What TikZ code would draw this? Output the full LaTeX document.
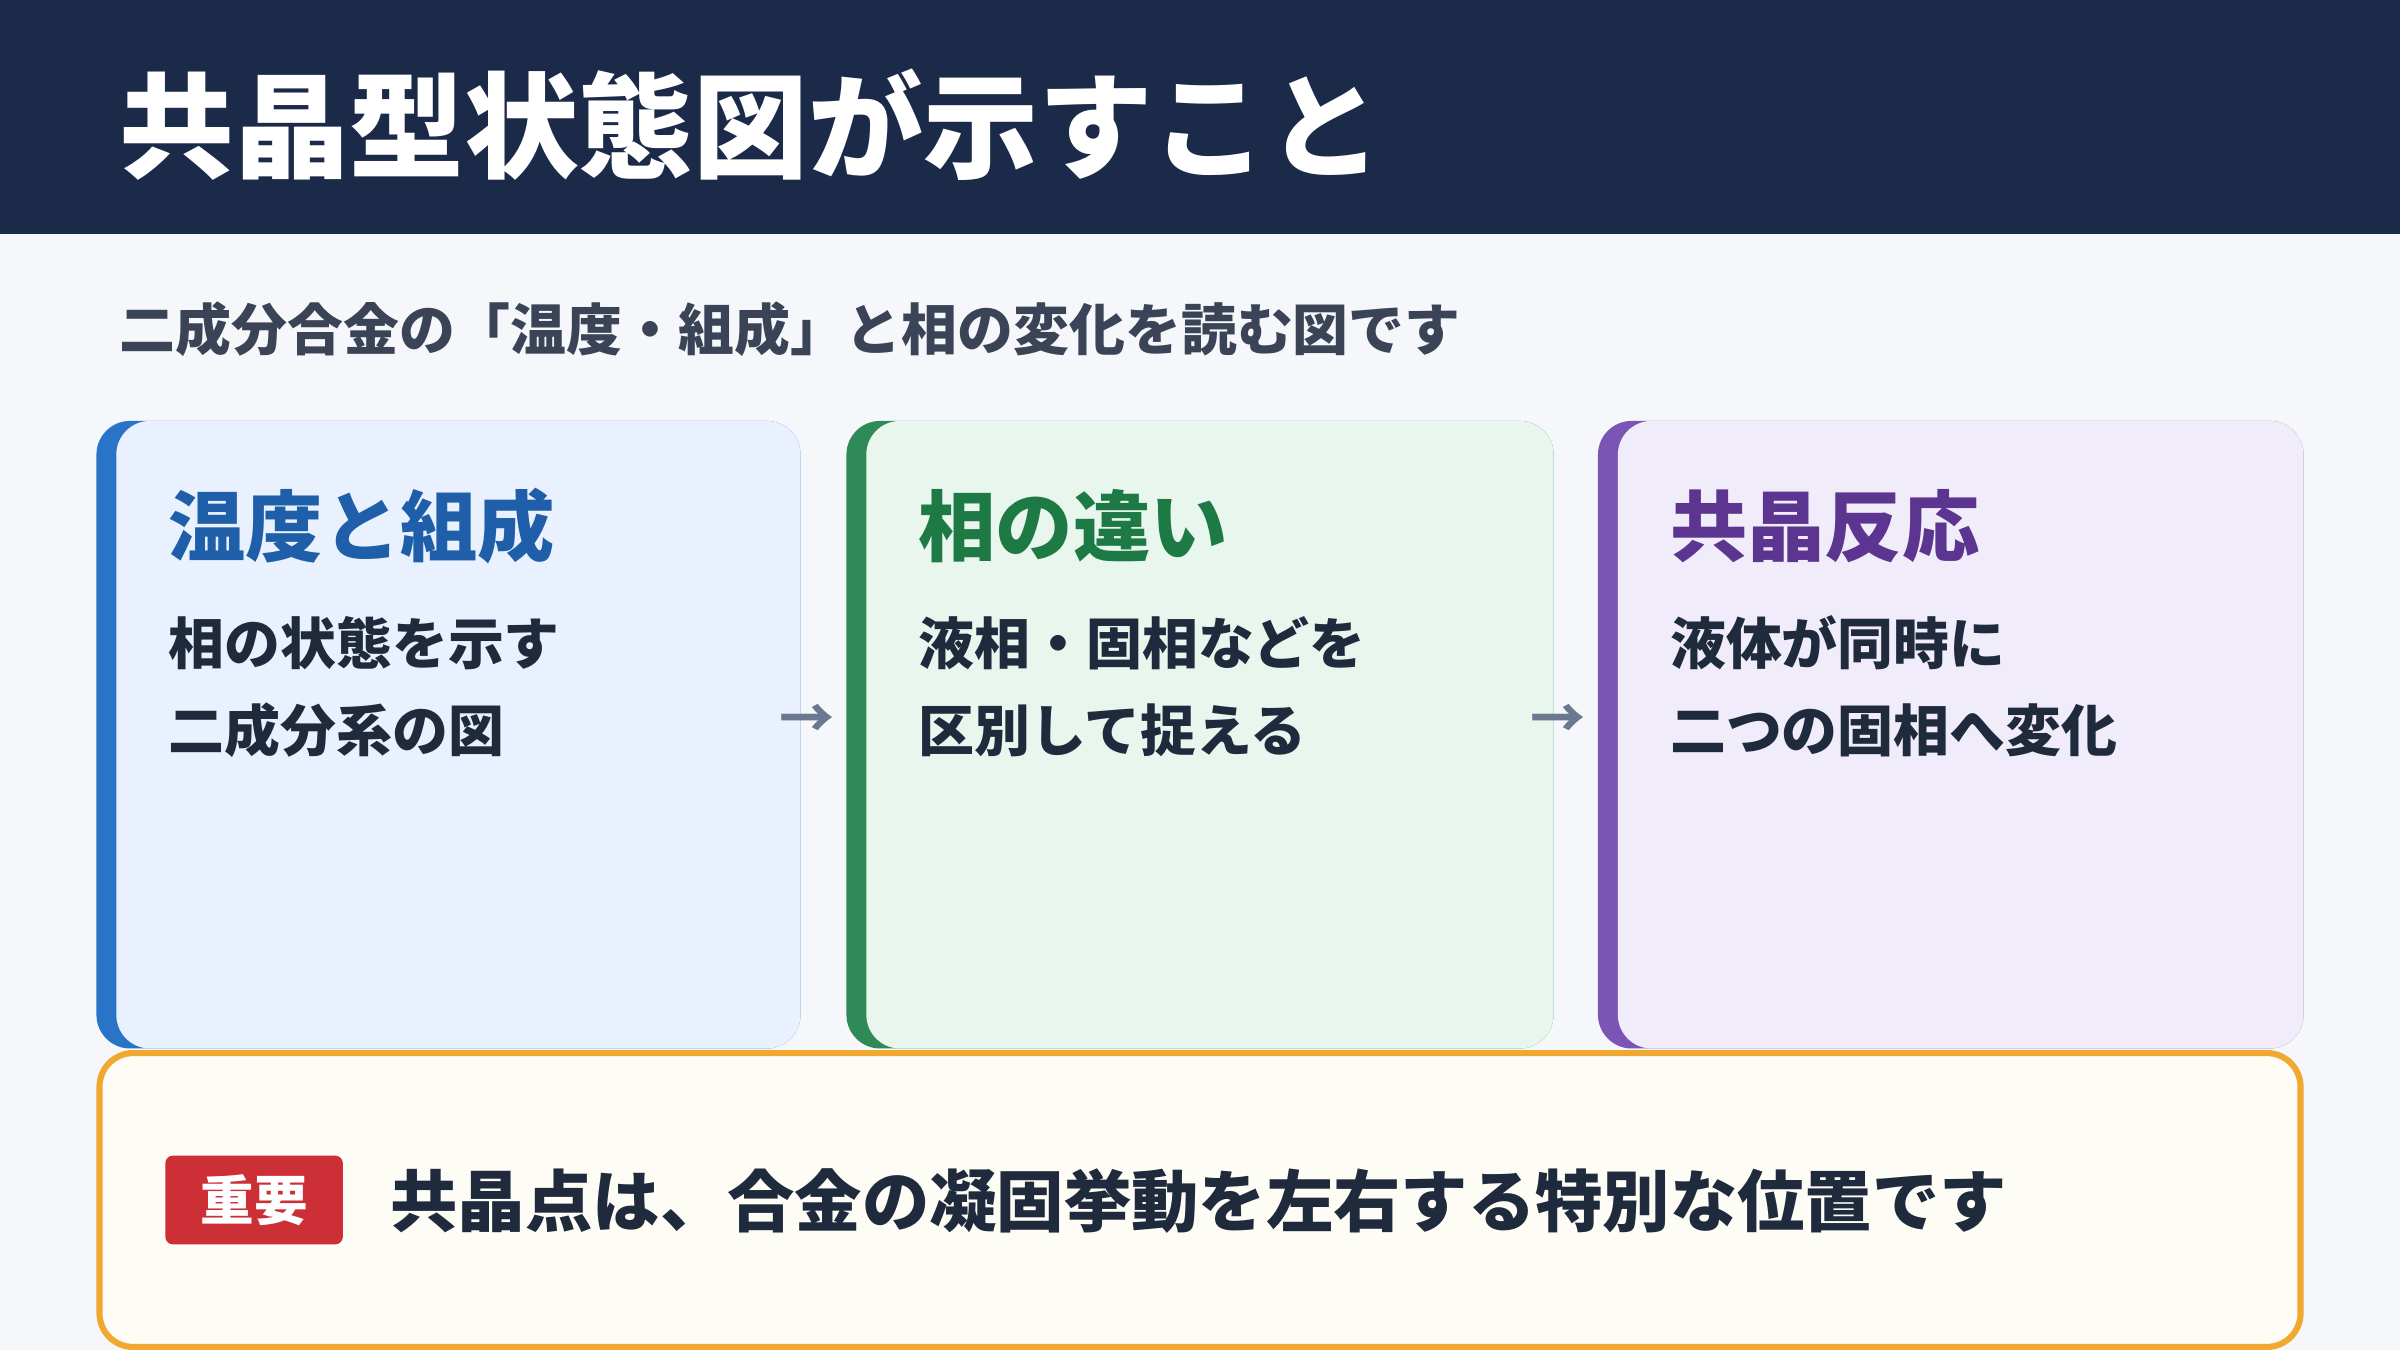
\documentclass[tikz,border=0pt]{standalone}
\usepackage{fontspec}
\setmainfont{Noto Sans CJK JP}[BoldFont={* Black}]
\begin{document}
\definecolor{navy}{HTML}{1C2A4A}
\definecolor{bg}{HTML}{F5F7FB}
\definecolor{sub}{HTML}{3A4456}
\definecolor{body}{HTML}{1F2A3D}
\definecolor{bA}{HTML}{2A74C8}\definecolor{bF}{HTML}{E8F1FD}\definecolor{bT}{HTML}{1F5EA8}
\definecolor{gA}{HTML}{2E8B57}\definecolor{gF}{HTML}{E8F6EE}\definecolor{gT}{HTML}{1E7A45}
\definecolor{pA}{HTML}{7B55B5}\definecolor{pF}{HTML}{F1ECFA}\definecolor{pT}{HTML}{5B3590}
\definecolor{orng}{HTML}{F0A830}\definecolor{note}{HTML}{FEFDF5}
\definecolor{red}{HTML}{CC2F36}\definecolor{arr}{HTML}{6B7890}
\begin{tikzpicture}[x=1pt,y=-1pt,
  txt/.style={anchor=base west,inner sep=0pt,font=\bfseries},
  ctitle/.style={txt,font=\fontsize{50.5}{54}\selectfont\bfseries},
  cbody/.style={txt,text=body,font=\fontsize{36.5}{40}\selectfont\bfseries},
  arrowsym/.style={inner sep=0pt,text=arr,font=\fontsize{36}{36}\selectfont\bfseries}]
\useasboundingbox (0,0) rectangle (1568,882);
\fill[bg] (0,0) rectangle (1568,882);
\fill[navy] (0,0) rectangle (1568,153);
\node[txt,text=white,font=\fontsize{75}{80}\selectfont\bfseries] (title) at (78,111) {共晶型状態図が示すこと};
\node[txt,text=sub,font=\fontsize{36.5}{40}\selectfont\bfseries] (subtitle) at (78,229) {二成分合金の「温度・組成」と相の変化を読む図です};
% cards
\foreach \x/\w/\a/\f in {63/460/bA/bF,553/462/gA/gF,1044/461/pA/pF}{
  \fill[\a,rounded corners=22] (\x,275) rectangle ++(\w,410);
  \fill[\f,rounded corners=22] (\x+13,275) rectangle (\x+\w,685);
}
\node[ctitle,text=bT] (t1) at (110,363) {温度と組成};
\node[cbody] (b1a) at (110,434) {相の状態を示す};
\node[cbody] (b1b) at (110,491) {二成分系の図};
\node[ctitle,text=gT] (t2) at (600,363) {相の違い};
\node[cbody] (b2a) at (600,434) {液相・固相などを};
\node[cbody] (b2b) at (600,491) {区別して捉える};
\node[ctitle,text=pT] (t3) at (1091,363) {共晶反応};
\node[cbody] (b3a) at (1091,434) {液体が同時に};
\node[cbody] (b3b) at (1091,491) {二つの固相へ変化};
\node[arrowsym] (a1) at (527,471) {→};
\node[arrowsym] (a2) at (1018,471) {→};
% note
\draw[orng,line width=4,fill=note,rounded corners=22] (65,688) rectangle (1503,880);
\node[fill=red,rounded corners=5,minimum width=116,minimum height=58,inner sep=0pt] (badge) at (166,784) {};
\node[txt,text=white,font=\fontsize{35}{38}\selectfont\bfseries,anchor=center] (badget) at (badge.center) {重要};
\node[txt,text=body,font=\fontsize{44}{48}\selectfont\bfseries] (notet) at (255,801) {共晶点は、合金の凝固挙動を左右する特別な位置です};
\end{tikzpicture}
\end{document}
